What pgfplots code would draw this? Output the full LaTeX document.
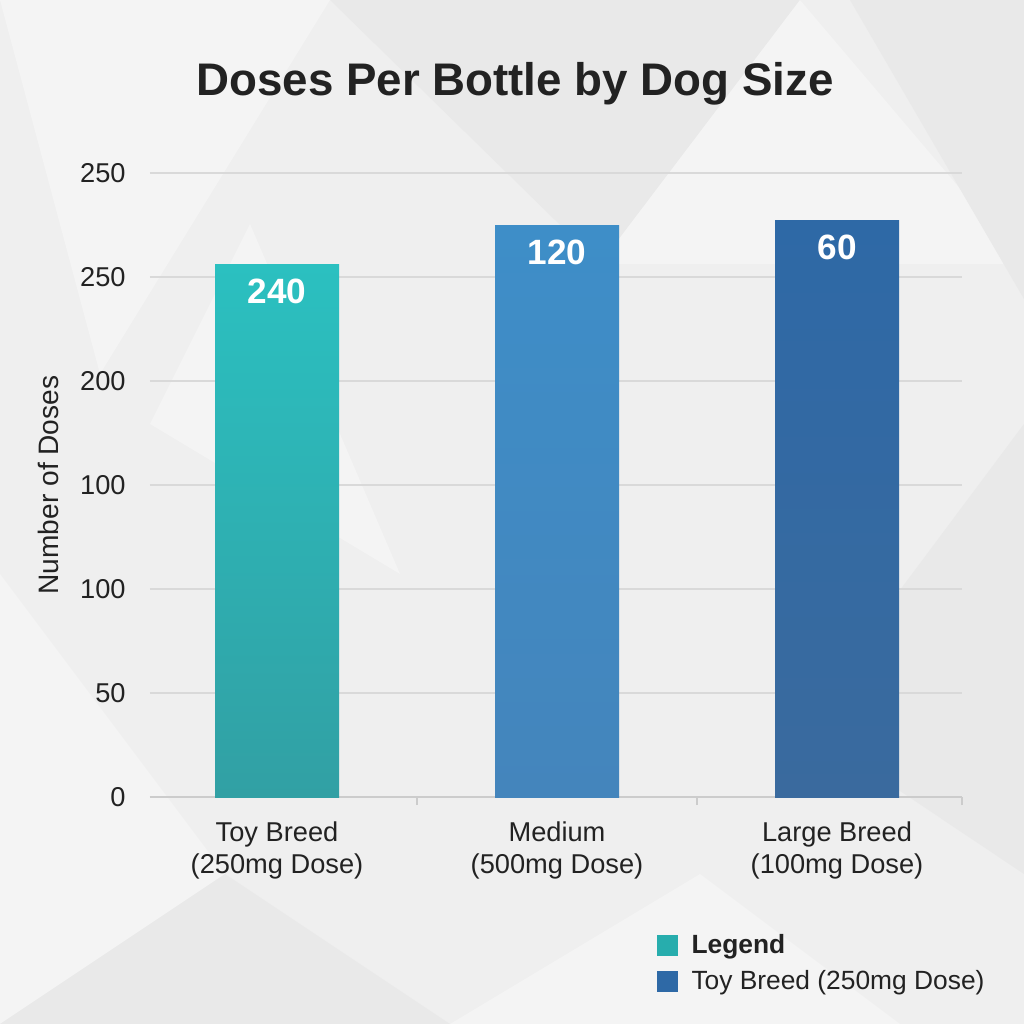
\documentclass[border=0pt]{standalone}
\usepackage{pgfplots}
\pgfplotsset{compat=1.18}
\usepackage{fontspec}
\setmainfont{Liberation Sans}
\definecolor{bgc}{HTML}{EFEFEF}
\definecolor{tri1}{HTML}{E9E9E9}
\definecolor{tri2}{HTML}{F4F4F4}
\definecolor{gridc}{HTML}{D9D9D9}
\definecolor{axc}{HTML}{CCCCCC}
\definecolor{tealtop}{HTML}{2BC0C0}
\definecolor{tealbot}{HTML}{31A0A4}
\definecolor{medtop}{HTML}{3E8EC8}
\definecolor{medbot}{HTML}{4485BC}
\definecolor{lrgtop}{HTML}{2E69A6}
\definecolor{lrgbot}{HTML}{3A6A9E}
\definecolor{txt}{HTML}{222222}
\begin{document}
\begin{tikzpicture}
% background
\fill[bgc] (0,0) rectangle (20.48cm,20.48cm);
\fill[tri2] (0,20.48cm) -- (6.6cm,20.48cm) -- (2.0cm,13cm) -- cycle;
\fill[tri1] (6.6cm,20.48cm) -- (16cm,20.48cm) -- (12cm,15.2cm) -- cycle;
\fill[tri2] (12cm,15.2cm) -- (20.48cm,15.2cm) -- (16cm,20.48cm) -- cycle;
\fill[tri1] (17cm,20.48cm) -- (20.48cm,20.48cm) -- (20.48cm,14.5cm) -- cycle;
\fill[tri2] (0,9cm) -- (4.5cm,3cm) -- (0,0) -- cycle;
\fill[tri1] (4.5cm,3cm) -- (9cm,0) -- (0,0) -- cycle;
\fill[tri2] (9cm,0) -- (14cm,3cm) -- (18cm,0) -- cycle;
\fill[tri1] (16cm,6cm) -- (20.48cm,12cm) -- (20.48cm,3cm) -- cycle;
\fill[tri2] (3cm,12cm) -- (8cm,9cm) -- (5cm,16cm) -- cycle;
% title
\node[anchor=base, font=\fontsize{26}{30}\selectfont\bfseries, text=txt] at (10.30cm,18.56cm) {Doses Per Bottle by Dog Size};
\begin{axis}[
  at={(3.0cm,4.54cm)}, anchor=south west,
  scale only axis, width=16.24cm, height=12.48cm,
  xmin=-0.4536, xmax=2.4464, ymin=0, ymax=300,
  axis x line*=bottom, axis y line*=left,
  x axis line style={draw=axc, line width=1pt},
  y axis line style={draw=none},
  ytick={0,50,100,150,200,250,300},
  yticklabels={0,50,100,100,200,250,250},
  xtick={0,1,2},
  xticklabels={{Toy Breed\\(250mg Dose)},{Medium\\(500mg Dose)},{Large Breed\\(100mg Dose)}},
  major tick length=0pt,
  ymajorgrids, grid style={draw=gridc, line width=1pt},
  tick label style={text=txt},
  yticklabel style={font=\fontsize{15.5}{18}\selectfont, inner sep=0pt, xshift=-0.48cm},
  xticklabel style={font=\fontsize{15.5}{18.5}\selectfont, align=center, inner sep=0pt, yshift=-0.48cm},
  extra x ticks={0.5,1.5,2.4464},
  extra x tick labels={},
  extra x tick style={grid=none, major tick length=0.16cm, tick align=outside, tick style={draw=axc, line width=1pt}},
  ylabel={Number of Doses},
  every axis y label/.style={at={(axis description cs:-0.1256,0.5)}, rotate=90, anchor=center, font=\fontsize{16}{18}\selectfont, text=txt},
  legend style={at={(rel axis cs:0.6243,-0.2144)}, anchor=north west, draw=none, fill=none, font=\fontsize{15}{18}\selectfont, text=txt, row sep=0.14cm, inner sep=0pt, /tikz/every odd column/.append style={column sep=0.2cm}},
  legend cell align=left,
  nodes near coords,
  point meta=explicit symbolic,
  every node near coord/.append style={font=\fontsize{20}{22}\selectfont\bfseries, text=white, anchor=center, yshift=-0.54cm},
]
\addplot[ybar, bar width=2.48cm, bar shift=0pt, draw=none, top color=tealtop, bottom color=tealbot, forget plot] coordinates {(0,256) [240]};
\addplot[ybar, bar width=2.48cm, bar shift=0pt, draw=none, top color=medtop, bottom color=medbot, forget plot] coordinates {(1,275) [120]};
\addplot[ybar, bar width=2.48cm, bar shift=0pt, draw=none, top color=lrgtop, bottom color=lrgbot, forget plot] coordinates {(2,277) [60]};
\addlegendimage{legend image code/.code={\fill[tealtop!90!black] (0cm,-0.2cm) rectangle (0.4cm,0.2cm);}}
\addlegendentry{\textbf{Legend}}
\addlegendimage{legend image code/.code={\fill[lrgtop] (0cm,-0.2cm) rectangle (0.4cm,0.2cm);}}
\addlegendentry{Toy Breed (250mg Dose)}
\end{axis}
\end{tikzpicture}
\end{document}
